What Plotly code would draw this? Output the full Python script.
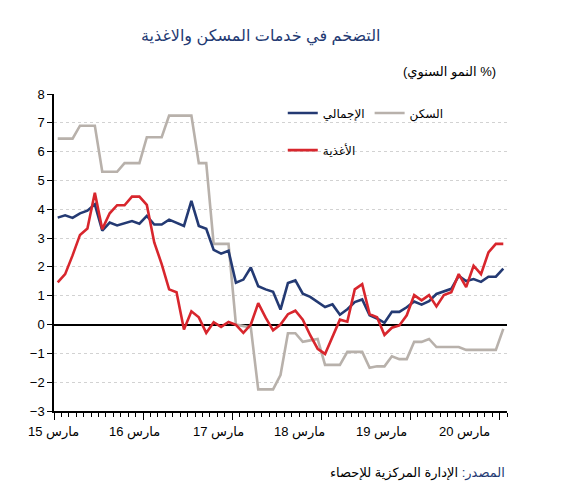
import plotly.graph_objects as go

# ---- data (monthly, Mar 2015 .. Mar 2020) ----
months = [f"{y}-{m:02d}" for y in range(2015, 2021) for m in range(1, 13)]
months = months[months.index("2015-03"):months.index("2020-03") + 1]

total = [3.71, 3.79, 3.70, 3.86, 3.95, 4.17, 3.26, 3.54, 3.44, 3.51,
         3.59, 3.50, 3.77, 3.47, 3.47, 3.64, 3.54, 3.42, 4.29, 3.42,
         3.32, 2.59, 2.46, 2.56, 1.45, 1.56, 1.98, 1.33, 1.22, 1.14,
         0.52, 1.44, 1.53, 1.07, 0.96, 0.79, 0.61, 0.70, 0.34, 0.53,
         0.78, 0.87, 0.32, 0.21, 0.06, 0.44, 0.44, 0.60, 0.80, 0.69,
         0.81, 1.06, 1.16, 1.24, 1.69, 1.51, 1.58, 1.48, 1.66, 1.66, 1.94]

housing = [6.45, 6.45, 6.45, 6.9, 6.9, 6.9, 5.3, 5.3, 5.3, 5.6,
           5.6, 5.6, 6.5, 6.5, 6.5, 7.25, 7.25, 7.25, 7.25, 5.6,
           5.6, 2.8, 2.8, 2.8, 0.0, -0.05, -0.1, -2.25, -2.25, -2.25,
           -1.75, -0.3, -0.3, -0.6, -0.55, -0.5, -1.4, -1.4, -1.4, -0.95,
           -0.95, -0.95, -1.5, -1.45, -1.45, -1.1, -1.2, -1.2, -0.6, -0.6,
           -0.5, -0.78, -0.78, -0.78, -0.78, -0.88, -0.88, -0.88, -0.88, -0.88, -0.15]

food = [1.46, 1.75, 2.4, 3.11, 3.33, 4.57, 3.31, 3.86, 4.14, 4.14,
        4.44, 4.44, 4.15, 2.85, 2.1, 1.22, 1.12, -0.17, 0.46, 0.25,
        -0.29, 0.08, -0.08, 0.09, -0.01, -0.29, 0.0, 0.74, 0.24, -0.2,
        0.0, 0.36, 0.48, 0.17, -0.37, -0.84, -1.02, -0.44, 0.17, 0.1,
        1.22, 1.4, 0.36, 0.25, -0.36, -0.11, -0.03, 0.32, 1.02, 0.84,
        1.02, 0.63, 1.02, 1.12, 1.75, 1.3, 2.04, 1.75, 2.5, 2.8, 2.8]

tick_labels = ["مارس 15", "مارس 16", "مارس 17", "مارس 18", "مارس 19", "مارس 20"]
series_names = ["الإجمالي", "السكن", "الأغذية"]

title_text = "التضخم في خدمات المسكن والاغذية"
unit_text = "(النمو السنوي %)"
source_label = "المصدر:"
source_text = "الإدارة المركزية للإحصاء"

# ---- styling ----
NAVY = "#243A73"
GREY = "#B8B1AB"
RED = "#D8262D"
FONT = "Arial, Liberation Sans, DejaVu Sans, sans-serif"

x = list(range(len(months)))
n = len(months)

fig = go.Figure()
fig.add_trace(go.Scatter(x=x, y=housing, name=series_names[1], mode="lines",
                         line=dict(color=GREY, width=2.6), legend="legend", legendrank=2,
                         customdata=months))
fig.add_trace(go.Scatter(x=x, y=total, name=series_names[0], mode="lines",
                         line=dict(color=NAVY, width=2.6), legend="legend", legendrank=1,
                         customdata=months))
fig.add_trace(go.Scatter(x=x, y=food, name=series_names[2], mode="lines",
                         line=dict(color=RED, width=2.6), legend="legend2",
                         customdata=months))

# label positions (as seen in the original, slightly offset from year boundaries)
label_pos = [-0.63, 10.4, 21.6, 32.6, 43.6, 54.8]
year_bounds = [i - 0.5 for i in range(0, n + 1, 12)]

fig.update_layout(
    width=565, height=500,
    margin=dict(l=54, r=58, t=94, b=89),
    paper_bgcolor="white", plot_bgcolor="white",
    font=dict(family=FONT, size=13, color="black"),
    showlegend=True,
    legend=dict(orientation="h", x=0.505, xanchor="left", y=0.94, yanchor="middle",
                font=dict(size=12, color="black"), bgcolor="rgba(0,0,0,0)",
                traceorder="normal", itemwidth=30, tracegroupgap=0),
    legend2=dict(orientation="h", x=0.505, xanchor="left", y=0.823, yanchor="middle",
                 font=dict(size=12, color="black"), bgcolor="rgba(0,0,0,0)",
                 itemwidth=30),
    xaxis=dict(range=[-0.5, n - 0.5], showgrid=False, zeroline=False,
               showline=True, linecolor="black", linewidth=1.5,
               tickmode="array", tickvals=year_bounds, ticks="outside", ticklen=7,
               tickcolor="black", tickwidth=1, showticklabels=False,
               minor=dict(ticks="outside", ticklen=4, tickcolor="black", tickwidth=1,
                          tickmode="linear", tick0=-0.5, dtick=1, showgrid=False),
               fixedrange=True),
    yaxis=dict(range=[-3, 8], dtick=1, tick0=0, showline=True, linecolor="black",
               linewidth=1.5, ticks="outside", ticklen=5, tickcolor="black",
               showgrid=True, gridcolor="#D2D2D2", griddash="dot", gridwidth=1,
               zeroline=True, zerolinecolor="black", zerolinewidth=1.5,
               tickfont=dict(size=13, color="black"), fixedrange=True),
    yaxis2=dict(range=[-3, 8], dtick=1, tick0=0, overlaying="y", side="right",
                anchor="x", showline=True, linecolor="black", linewidth=1.5,
                ticks="outside", ticklen=5, tickcolor="black", showgrid=False,
                zeroline=False, tickfont=dict(size=13, color="black")),
)

# month labels under the axis (paper coords so the first one may sit past the axis start)
for pos, lab in zip(label_pos, tick_labels):
    fig.add_annotation(text=lab, xref="paper", yref="paper", x=(pos + 0.5) / n, y=-0.066,
                       xanchor="center", yanchor="middle", showarrow=False,
                       font=dict(size=13, color="black", family=FONT))

fig.add_annotation(text=title_text, xref="paper", yref="paper", x=0.457, y=1.18,
                   xanchor="center", yanchor="middle", showarrow=False,
                   font=dict(size=16, color=NAVY, family=FONT))
fig.add_annotation(text=unit_text, xref="paper", yref="paper", x=0.98, y=1.07,
                   xanchor="right", yanchor="middle", showarrow=False,
                   font=dict(size=13, color="black", family=FONT))
fig.add_annotation(text=f"<span style='color:{NAVY}'>{source_label}</span> {source_text}",
                   xref="paper", yref="paper", x=1.0, y=-0.196,
                   xanchor="right", yanchor="middle", showarrow=False,
                   font=dict(size=13, color="black", family=FONT))

fig.write_html("out.html")
